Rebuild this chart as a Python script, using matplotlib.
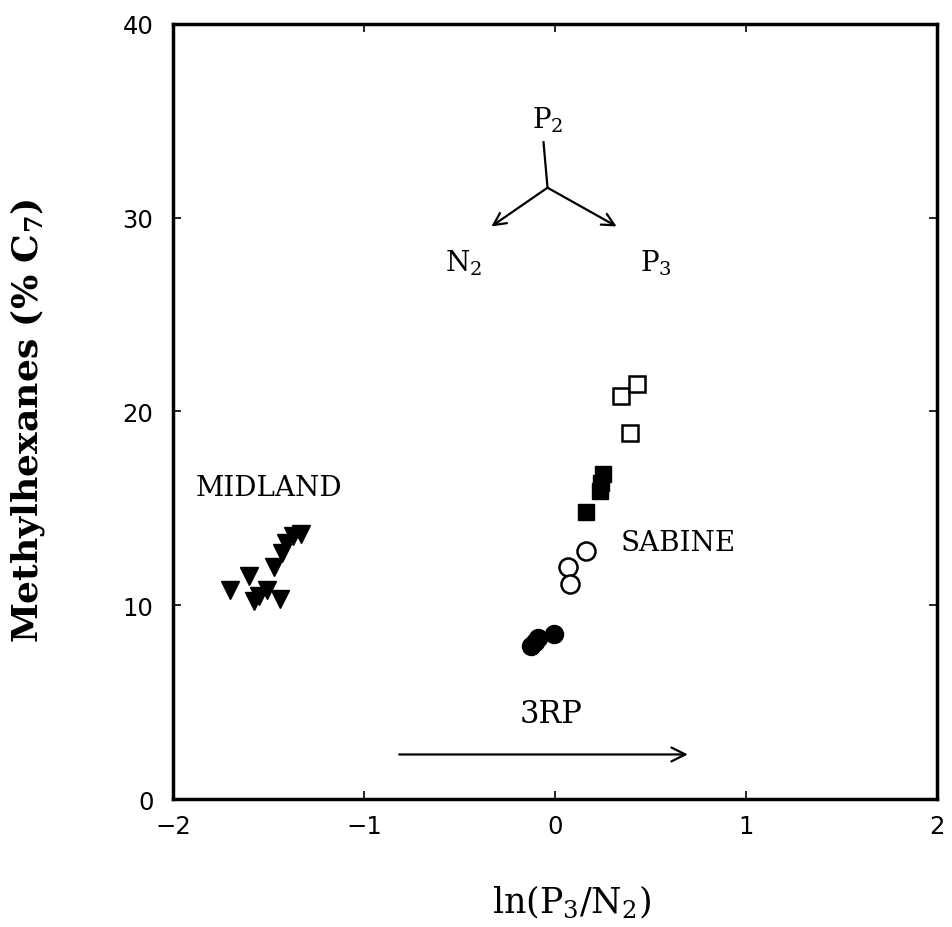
import numpy as np
import matplotlib.pyplot as plt

# --- data ---
# MIDLAND (filled down-triangles)
midland_x = [-1.70, -1.60, -1.575, -1.55, -1.51, -1.44, -1.47, -1.43, -1.41, -1.37, -1.33]
midland_y = [10.8, 11.5, 10.2, 10.5, 10.8, 10.3, 12.0, 12.7, 13.2, 13.6, 13.7]

# SABINE groups
open_sq_x = [0.348, 0.43, 0.395]
open_sq_y = [20.8, 21.4, 18.9]
fill_sq_x = [0.25, 0.242, 0.234, 0.164]
fill_sq_y = [16.75, 16.3, 15.9, 14.8]
open_ci_x = [0.16, 0.068, 0.08]
open_ci_y = [12.8, 12.0, 11.1]
fill_ci_x = [-0.107, -0.007, -0.124, -0.09]
fill_ci_y = [8.08, 8.5, 7.9, 8.3]

x_ticks = [-2, -1, 0, 1, 2]
y_ticks = [0, 10, 20, 30, 40]

serif = ['DejaVu Serif']
plt.rcParams['mathtext.fontset'] = 'dejavuserif'

fig = plt.figure(figsize=(9.52, 9.28), dpi=100)
ax = fig.add_axes([0.1817, 0.1379, 0.8025, 0.8352])

ax.plot(midland_x, midland_y, 'v', color='black', ms=12.5, mec='black')
ax.plot(open_sq_x, open_sq_y, 's', mfc='white', mec='black', mew=1.8, ms=11)
ax.plot(fill_sq_x, fill_sq_y, 's', color='black', ms=11)
ax.plot(open_ci_x, open_ci_y, 'o', mfc='white', mec='black', mew=1.8, ms=13)
ax.plot(fill_ci_x, fill_ci_y, 'o', color='black', ms=13)

ax.set_xlim(-2, 2)
ax.set_ylim(0, 40)
ax.set_xticks(x_ticks)
ax.set_yticks(y_ticks)
ax.set_xticklabels(['\u22122', '\u22121', '0', '1', '2'])
ax.tick_params(direction='in', top=True, right=True, length=6, width=1.2,
               labelsize=17.5)
ax.tick_params(axis='x', pad=11)
ax.tick_params(axis='y', pad=14)
for lab in ax.get_xticklabels() + ax.get_yticklabels():
    lab.set_family(['DejaVu Sans'])
for s in ax.spines.values():
    s.set_linewidth(2.5)

ax.set_ylabel(r'Methylhexanes (% C$_\mathbf{7}$)', family=serif,
              fontweight='bold', fontsize=26)
ax.yaxis.set_label_coords(-0.165, 0.489)
ax.set_xlabel(r'ln(P$_{3}$/N$_{2}$)', family=serif, fontsize=25)
ax.xaxis.set_label_coords(0.522, -0.108)

# group labels
ax.text(-1.50, 16.1, 'MIDLAND', family=serif, fontsize=20, ha='center', va='center')
ax.text(0.643, 13.25, 'SABINE', family=serif, fontsize=20, ha='center', va='center')
ax.text(-0.02, 4.4, '3RP', family=serif, fontsize=22, ha='center', va='center')

# 3RP arrow
ax.annotate('', xy=(0.71, 2.3), xytext=(-0.83, 2.3),
            arrowprops=dict(arrowstyle='->', lw=1.6, color='black', mutation_scale=25))

# ternary direction sketch
ax.plot([-0.06, -0.039], [33.9, 31.55], color='black', lw=1.6)
ax.annotate('', xy=(-0.333, 29.55), xytext=(-0.039, 31.55),
            arrowprops=dict(arrowstyle='->', lw=1.6, color='black', mutation_scale=22,
                            shrinkA=0, shrinkB=0))
ax.annotate('', xy=(0.323, 29.55), xytext=(-0.039, 31.55),
            arrowprops=dict(arrowstyle='->', lw=1.6, color='black', mutation_scale=22,
                            shrinkA=0, shrinkB=0))
ax.text(-0.04, 35.1, r'P$_{2}$', family=serif, fontsize=20, ha='center', va='center')
ax.text(-0.48, 27.7, r'N$_{2}$', family=serif, fontsize=20, ha='center', va='center')
ax.text(0.53, 27.7, r'P$_{3}$', family=serif, fontsize=20, ha='center', va='center')

fig.savefig('out.png', dpi=100)
